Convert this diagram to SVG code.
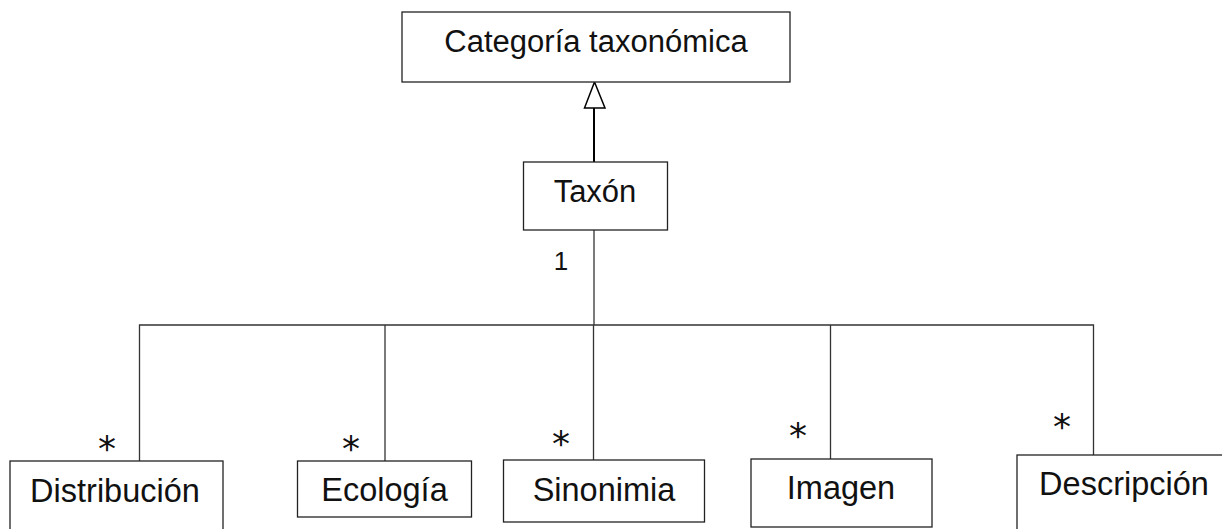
<svg xmlns="http://www.w3.org/2000/svg" width="1222" height="529" viewBox="0 0 1222 529">
<style>
.box{fill:#fff;stroke:#222;stroke-width:1.3}
.lbl{font-family:"Liberation Sans",Arial,sans-serif;font-size:31px;fill:#111;text-anchor:middle}
.big{font-size:32.5px}
.mult{font-family:"DejaVu Sans",sans-serif;font-size:36px;fill:#111;text-anchor:middle}
.one{font-family:"Liberation Sans",Arial,sans-serif;font-size:26px;fill:#111;text-anchor:middle}
.ln{fill:none;stroke:#333;stroke-width:1.3}
</style>
<rect width="1222" height="529" fill="#fff"/>
<g id="connectors">
<path d="M594,162 L594,108" fill="none" stroke="#000" stroke-width="2"/>
<polygon points="594.5,82 584.5,108 605,108" fill="#fff" stroke="#000" stroke-width="1.5"/>
<path class="ln" d="M594,230 L594,325"/>
<path class="ln" d="M139.5,461 L139.5,325 L1093.5,325 L1093.5,455"/>
<path class="ln" d="M385,325 L385,461"/>
<path class="ln" d="M593.5,325 L593.5,460"/>
<path class="ln" d="M830.5,325 L830.5,459"/>
<text class="one" x="561" y="270">1</text>
<text class="mult" x="107" y="461">*</text>
<text class="mult" x="351" y="461">*</text>
<text class="mult" x="561" y="456">*</text>
<text class="mult" x="798" y="448">*</text>
<text class="mult" x="1062" y="439">*</text>
</g>
<g id="categoria">
<rect class="box" x="402" y="12" width="388" height="70"/>
<text class="lbl" x="596" y="52">Categoría taxonómica</text>
</g>
<g id="taxon">
<rect class="box" x="523.5" y="162" width="144" height="68"/>
<text class="lbl" x="595" y="202">Taxón</text>
</g>
<g id="distribucion">
<rect class="box" x="10" y="461" width="213" height="80"/>
<text class="lbl big" x="115" y="502">Distribución</text>
</g>
<g id="ecologia">
<rect class="box" x="297.5" y="461" width="174" height="56"/>
<text class="lbl big" x="384.5" y="501">Ecología</text>
</g>
<g id="sinonimia">
<rect class="box" x="503.5" y="460" width="201" height="62"/>
<text class="lbl big" x="604" y="501">Sinonimia</text>
</g>
<g id="imagen">
<rect class="box" x="751" y="459" width="181" height="68"/>
<text class="lbl big" x="841" y="499">Imagen</text>
</g>
<g id="descripcion">
<rect class="box" x="1017" y="455" width="215" height="90"/>
<text class="lbl big" x="1124" y="495">Descripción</text>
</g>
</svg>
